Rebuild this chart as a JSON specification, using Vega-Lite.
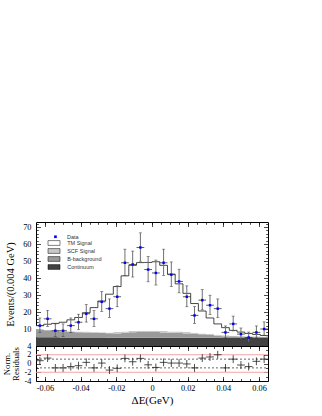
{
  "$schema": "https://vega.github.io/schema/vega-lite/v6.json",
  "autosize": {"type": "pad"},
  "padding": {"left": 2, "top": 221, "right": 5, "bottom": 2},
  "background": "white",
  "spacing": 0,
  "bounds": "flush",
  "config": {
    "view": {"stroke": "black", "strokeWidth": 1},
    "font": "Liberation Serif",
    "axis": {
      "grid": false, "domain": false, "tickColor": "black", "tickWidth": 0.7,
      "labelFont": "Liberation Serif", "titleFont": "Liberation Serif",
      "labelColor": "black", "titleColor": "black", "labelFontSize": 8.3,
      "titleFontWeight": "normal", "labelOverlap": false, "labelFlush": false
    }
  },
  "datasets": {
    "hist": [
      {"lo": -0.065, "Continuum": 5.1, "B-background": 4.5, "SCF Signal": 0.4, "TM Signal": 2.0},
      {"lo": -0.06067, "Continuum": 5.1, "B-background": 4.1, "SCF Signal": 0.4, "TM Signal": 3.2},
      {"lo": -0.05633, "Continuum": 5.1, "B-background": 3.7, "SCF Signal": 0.4, "TM Signal": 4.1},
      {"lo": -0.052, "Continuum": 5.0, "B-background": 3.6, "SCF Signal": 0.4, "TM Signal": 5.0},
      {"lo": -0.04767, "Continuum": 5.0, "B-background": 3.3, "SCF Signal": 0.4, "TM Signal": 6.7},
      {"lo": -0.04333, "Continuum": 5.0, "B-background": 3.1, "SCF Signal": 0.5, "TM Signal": 8.2},
      {"lo": -0.039, "Continuum": 5.0, "B-background": 3.0, "SCF Signal": 0.5, "TM Signal": 11.1},
      {"lo": -0.03467, "Continuum": 5.0, "B-background": 2.8, "SCF Signal": 0.5, "TM Signal": 14.3},
      {"lo": -0.03033, "Continuum": 5.0, "B-background": 2.6, "SCF Signal": 0.5, "TM Signal": 18.4},
      {"lo": -0.026, "Continuum": 4.9, "B-background": 2.6, "SCF Signal": 0.5, "TM Signal": 22.5},
      {"lo": -0.02167, "Continuum": 4.9, "B-background": 2.5, "SCF Signal": 0.8, "TM Signal": 26.8},
      {"lo": -0.01733, "Continuum": 4.9, "B-background": 2.9, "SCF Signal": 0.8, "TM Signal": 32.7},
      {"lo": -0.013, "Continuum": 4.9, "B-background": 3.2, "SCF Signal": 0.8, "TM Signal": 38.6},
      {"lo": -0.00867, "Continuum": 4.9, "B-background": 3.3, "SCF Signal": 0.8, "TM Signal": 40.1},
      {"lo": -0.00433, "Continuum": 4.9, "B-background": 3.3, "SCF Signal": 0.8, "TM Signal": 40.2},
      {"lo": 0, "Continuum": 4.8, "B-background": 3.4, "SCF Signal": 0.8, "TM Signal": 40.6},
      {"lo": 0.00433, "Continuum": 4.8, "B-background": 3.2, "SCF Signal": 0.8, "TM Signal": 38.7},
      {"lo": 0.00867, "Continuum": 4.8, "B-background": 3.0, "SCF Signal": 0.8, "TM Signal": 33.7},
      {"lo": 0.013, "Continuum": 4.8, "B-background": 2.9, "SCF Signal": 0.8, "TM Signal": 28.1},
      {"lo": 0.01733, "Continuum": 4.8, "B-background": 2.6, "SCF Signal": 0.8, "TM Signal": 22.8},
      {"lo": 0.02167, "Continuum": 4.8, "B-background": 2.5, "SCF Signal": 0.5, "TM Signal": 17.2},
      {"lo": 0.026, "Continuum": 4.8, "B-background": 2.1, "SCF Signal": 0.5, "TM Signal": 13.2},
      {"lo": 0.03033, "Continuum": 4.8, "B-background": 1.7, "SCF Signal": 0.5, "TM Signal": 9.5},
      {"lo": 0.03467, "Continuum": 4.8, "B-background": 1.3, "SCF Signal": 0.5, "TM Signal": 6.4},
      {"lo": 0.039, "Continuum": 4.7, "B-background": 1.1, "SCF Signal": 0.5, "TM Signal": 4.5},
      {"lo": 0.04333, "Continuum": 4.7, "B-background": 1.0, "SCF Signal": 0.3, "TM Signal": 3.2},
      {"lo": 0.04767, "Continuum": 4.7, "B-background": 0.9, "SCF Signal": 0.3, "TM Signal": 2.3},
      {"lo": 0.052, "Continuum": 4.7, "B-background": 0.8, "SCF Signal": 0.3, "TM Signal": 1.6},
      {"lo": 0.05633, "Continuum": 4.7, "B-background": 0.7, "SCF Signal": 0.3, "TM Signal": 1.1},
      {"lo": 0.06067, "Continuum": 4.7, "B-background": 0.6, "SCF Signal": 0.3, "TM Signal": 0.6},
      {"lo": 0.065, "Continuum": 4.7, "B-background": 0.6, "SCF Signal": 0.3, "TM Signal": 0.6}
    ],
    "pts": [
      {"x": -0.06283, "xlo": -0.065, "xhi": -0.06067, "n": 12, "lo": 8.0, "hi": 16.5, "res": 0.64, "rlo": -0.26, "rhi": 1.54},
      {"x": -0.0585, "xlo": -0.06067, "xhi": -0.05633, "n": 16, "lo": 11.5, "hi": 21.0, "res": 1.24, "rlo": 0.34, "rhi": 2.14},
      {"x": -0.05417, "xlo": -0.05633, "xhi": -0.052, "n": 9, "lo": 5.5, "hi": 13.0, "res": -1.0, "rlo": -1.9, "rhi": -0.1},
      {"x": -0.04983, "xlo": -0.052, "xhi": -0.04767, "n": 9, "lo": 5.5, "hi": 13.0, "res": -1.0, "rlo": -1.9, "rhi": -0.1},
      {"x": -0.0455, "xlo": -0.04767, "xhi": -0.04333, "n": 12, "lo": 8.0, "hi": 16.5, "res": -0.7, "rlo": -1.6, "rhi": 0.2},
      {"x": -0.04117, "xlo": -0.04333, "xhi": -0.039, "n": 14, "lo": 9.8, "hi": 18.7, "res": -0.5, "rlo": -1.4, "rhi": 0.4},
      {"x": -0.03683, "xlo": -0.039, "xhi": -0.03467, "n": 19, "lo": 14.1, "hi": 24.4, "res": 0.26, "rlo": -0.64, "rhi": 1.16},
      {"x": -0.0325, "xlo": -0.03467, "xhi": -0.03033, "n": 16, "lo": 11.5, "hi": 21.0, "res": -1.0, "rlo": -1.9, "rhi": -0.1},
      {"x": -0.02817, "xlo": -0.03033, "xhi": -0.026, "n": 26, "lo": 20.4, "hi": 32.1, "res": 0.1, "rlo": -0.8, "rhi": 1.0},
      {"x": -0.02383, "xlo": -0.026, "xhi": -0.02167, "n": 22, "lo": 16.8, "hi": 27.7, "res": -1.5, "rlo": -2.4, "rhi": -0.6},
      {"x": -0.0195, "xlo": -0.02167, "xhi": -0.01733, "n": 29, "lo": 23.1, "hi": 35.4, "res": -1.1, "rlo": -2.0, "rhi": -0.2},
      {"x": -0.01517, "xlo": -0.01733, "xhi": -0.013, "n": 49, "lo": 41.5, "hi": 57.0, "res": 1.17, "rlo": 0.27, "rhi": 2.07},
      {"x": -0.01083, "xlo": -0.013, "xhi": -0.00867, "n": 48, "lo": 40.6, "hi": 55.9, "res": 0.4, "rlo": -0.5, "rhi": 1.3},
      {"x": -0.0065, "xlo": -0.00867, "xhi": -0.00433, "n": 58, "lo": 49.9, "hi": 66.6, "res": 1.17, "rlo": 0.27, "rhi": 2.07},
      {"x": -0.00217, "xlo": -0.00433, "xhi": 0, "n": 45, "lo": 37.8, "hi": 52.7, "res": -0.3, "rlo": -1.2, "rhi": 0.6},
      {"x": 0.00217, "xlo": 0, "xhi": 0.00433, "n": 43, "lo": 35.9, "hi": 50.6, "res": -0.9, "rlo": -1.8, "rhi": 0.0},
      {"x": 0.0065, "xlo": 0.00433, "xhi": 0.00867, "n": 49, "lo": 41.5, "hi": 57.0, "res": 0.26, "rlo": -0.64, "rhi": 1.16},
      {"x": 0.01083, "xlo": 0.00867, "xhi": 0.013, "n": 42, "lo": 35.0, "hi": 49.5, "res": 0.1, "rlo": -0.8, "rhi": 1.0},
      {"x": 0.01517, "xlo": 0.013, "xhi": 0.01733, "n": 38, "lo": 31.3, "hi": 45.2, "res": 0.1, "rlo": -0.8, "rhi": 1.0},
      {"x": 0.0195, "xlo": 0.01733, "xhi": 0.02167, "n": 29, "lo": 23.1, "hi": 35.4, "res": -0.1, "rlo": -1.0, "rhi": 0.8},
      {"x": 0.02383, "xlo": 0.02167, "xhi": 0.026, "n": 18, "lo": 13.3, "hi": 23.2, "res": -1.0, "rlo": -1.9, "rhi": -0.1},
      {"x": 0.02817, "xlo": 0.026, "xhi": 0.03033, "n": 27, "lo": 21.3, "hi": 33.2, "res": 1.24, "rlo": 0.34, "rhi": 2.14},
      {"x": 0.0325, "xlo": 0.03033, "xhi": 0.03467, "n": 24, "lo": 18.6, "hi": 29.9, "res": 1.5, "rlo": 0.6, "rhi": 2.4},
      {"x": 0.03683, "xlo": 0.03467, "xhi": 0.039, "n": 22, "lo": 16.8, "hi": 27.7, "res": 2.0, "rlo": 1.1, "rhi": 2.9},
      {"x": 0.04117, "xlo": 0.039, "xhi": 0.04333, "n": 8, "lo": 4.7, "hi": 11.8, "res": -1.0, "rlo": -1.9, "rhi": -0.1},
      {"x": 0.0455, "xlo": 0.04333, "xhi": 0.04767, "n": 13, "lo": 8.9, "hi": 17.6, "res": 1.0, "rlo": 0.1, "rhi": 1.9},
      {"x": 0.04983, "xlo": 0.04767, "xhi": 0.052, "n": 7, "lo": 3.9, "hi": 10.6, "res": -0.35, "rlo": -1.25, "rhi": 0.55},
      {"x": 0.05417, "xlo": 0.052, "xhi": 0.05633, "n": 5, "lo": 2.3, "hi": 8.2, "res": -0.7, "rlo": -1.6, "rhi": 0.2},
      {"x": 0.0585, "xlo": 0.05633, "xhi": 0.06067, "n": 8, "lo": 4.7, "hi": 11.8, "res": 0.5, "rlo": -0.4, "rhi": 1.4},
      {"x": 0.06283, "xlo": 0.06067, "xhi": 0.065, "n": 10, "lo": 6.3, "hi": 14.2, "res": 1.0, "rlo": 0.1, "rhi": 1.9}
    ]
  },
  "vconcat": [
    {
      "width": 232,
      "height": 124,
      "resolve": {"axis": {"x": "independent", "y": "independent"}},
      "layer": [
        {
          "data": {"name": "hist"},
          "transform": [
            {"fold": ["Continuum", "B-background", "SCF Signal", "TM Signal"], "as": ["comp", "v"]},
            {"stack": "v", "groupby": ["lo"], "as": ["v0", "v1"]}
          ],
          "mark": {"type": "area", "interpolate": "step-after", "opacity": 1},
          "encoding": {
            "x": {"field": "lo", "type": "quantitative",
              "scale": {"domain": [-0.065, 0.065], "nice": false, "zero": false},
              "axis": {"orient": "bottom", "labels": false, "title": null, "tickSize": -4.5,
                "values": [-0.06, -0.04, -0.02, 0, 0.02, 0.04, 0.06]}},
            "y": {"field": "v1", "type": "quantitative",
              "scale": {"domain": [0, 73], "nice": false, "zero": false},
              "axis": {"orient": "left", "title": "Events/(0.004 GeV)", "titleFontSize": 10.5, "titlePadding": 7,
                "tickSize": -4.5, "labelPadding": 9.5, "values": [10, 20, 30, 40, 50, 60, 70]}},
            "y2": {"field": "v0"},
            "fill": {"field": "comp", "type": "nominal",
              "scale": {"domain": ["TM Signal", "SCF Signal", "B-background", "Continuum"],
                "range": ["#ffffff", "#c8c8c8", "#9a9a9a", "#424242"]},
              "legend": {"orient": "none", "legendX": 14.5, "legendY": 17.5, "title": null, "padding": 0,
                "labelFont": "Liberation Sans", "labelFontSize": 5.5, "labelColor": "#333333", "labelOffset": 9.7,
                "rowPadding": 1, "symbolSize": 36, "symbolType": "M-2,-0.8H2V0.8H-2Z",
                "symbolStrokeColor": "#000000", "symbolStrokeWidth": 0.5, "symbolOpacity": 1}
            }
          }
        },
        {
          "data": {"name": "hist"},
          "transform": [
            {"fold": ["Continuum", "B-background", "SCF Signal", "TM Signal"], "as": ["comp", "v"]},
            {"stack": "v", "groupby": ["lo"], "as": ["v0", "v1"]},
            {"filter": "datum.comp === 'TM Signal'"}
          ],
          "mark": {"type": "line", "interpolate": "step-after", "color": "#1a1a1a", "strokeWidth": 0.8},
          "encoding": {
            "x": {"field": "lo", "type": "quantitative",
              "scale": {"domain": [-0.065, 0.065], "nice": false, "zero": false},
              "axis": {"orient": "top", "labels": false, "title": null, "tickSize": -4.5,
                "values": [-0.06, -0.04, -0.02, 0, 0.02, 0.04, 0.06]}},
            "y": {"field": "v1", "type": "quantitative",
              "scale": {"domain": [0, 73], "nice": false, "zero": false},
              "axis": {"orient": "right", "labels": false, "title": null, "tickSize": -4.5,
                "values": [0, 10, 20, 30, 40, 50, 60, 70]}}
          }
        },
        {
          "data": {"name": "pts"},
          "mark": {"type": "rule", "color": "#707070", "strokeWidth": 1},
          "encoding": {
            "x": {"field": "x", "type": "quantitative", "scale": {"domain": [-0.065, 0.065], "nice": false, "zero": false},
              "axis": {"orient": "bottom", "labels": false, "title": null, "tickSize": -2.3,
                "values": [-0.06,-0.055,-0.05,-0.045,-0.04,-0.035,-0.03,-0.025,-0.02,-0.015,-0.01,-0.005,0,0.005,0.01,0.015,0.02,0.025,0.03,0.035,0.04,0.045,0.05,0.055,0.06]}},
            "y": {"field": "lo", "type": "quantitative", "scale": {"domain": [0, 73], "nice": false, "zero": false},
              "axis": {"orient": "left", "labels": false, "title": null, "tickSize": -2.3,
                "values": [2,4,6,8,12,14,16,18,22,24,26,28,32,34,36,38,42,44,46,48,52,54,56,58,62,64,66,68,72]}},
            "y2": {"field": "hi"}
          }
        },
        {
          "data": {"name": "pts"},
          "mark": {"type": "rule", "color": "#333333", "strokeWidth": 0.8},
          "encoding": {
            "x": {"field": "xlo", "type": "quantitative", "scale": {"domain": [-0.065, 0.065], "nice": false, "zero": false},
              "axis": {"orient": "top", "labels": false, "title": null, "tickSize": -2.3,
                "values": [-0.06,-0.055,-0.05,-0.045,-0.04,-0.035,-0.03,-0.025,-0.02,-0.015,-0.01,-0.005,0,0.005,0.01,0.015,0.02,0.025,0.03,0.035,0.04,0.045,0.05,0.055,0.06]}},
            "x2": {"field": "xhi"},
            "y": {"field": "n", "type": "quantitative", "scale": {"domain": [0, 73], "nice": false, "zero": false},
              "axis": {"orient": "right", "labels": false, "title": null, "tickSize": -2.3,
                "values": [2,4,6,8,12,14,16,18,22,24,26,28,32,34,36,38,42,44,46,48,52,54,56,58,62,64,66,68,72]}}
          }
        },
        {
          "data": {"name": "pts"},
          "transform": [{"fold": ["lo", "hi"], "as": ["end", "ev"]}],
          "mark": {"type": "tick", "orient": "horizontal", "color": "#333333", "size": 3, "thickness": 0.7},
          "encoding": {
            "x": {"field": "x", "type": "quantitative", "scale": {"domain": [-0.065, 0.065], "nice": false, "zero": false}, "axis": null},
            "y": {"field": "ev", "type": "quantitative", "scale": {"domain": [0, 73], "nice": false, "zero": false}, "axis": null}
          }
        },
        {
          "data": {"name": "pts"},
          "mark": {"type": "point", "filled": true, "size": 6, "color": "#0000ff", "opacity": 1},
          "encoding": {
            "x": {"field": "x", "type": "quantitative", "scale": {"domain": [-0.065, 0.065], "nice": false, "zero": false}, "axis": null},
            "y": {"field": "n", "type": "quantitative", "scale": {"domain": [0, 73], "nice": false, "zero": false}, "axis": null},
            "shape": {"datum": "Data", "type": "nominal",
              "scale": {"domain": ["Data"], "range": ["square"]},
              "legend": {"orient": "none", "legendX": 16.7, "legendY": 12, "title": null, "padding": 0,
                "labelFont": "Liberation Sans", "labelFontSize": 5.5, "labelColor": "#333333", "labelOffset": 8.8,
                "symbolSize": 7, "symbolFillColor": "#0000ff", "symbolStrokeWidth": 0, "symbolOpacity": 1}}
          }
        }
      ]
    },
    {
      "width": 232,
      "height": 35,
      "resolve": {"axis": {"x": "independent", "y": "independent"}},
      "layer": [
        {
          "data": {"values": [{"r": 2}, {"r": -2}]},
          "mark": {"type": "rule", "color": "#f4a3a3", "strokeWidth": 1.2},
          "encoding": {
            "x": {"datum": -0.065, "type": "quantitative", "scale": {"domain": [-0.065, 0.065], "nice": false, "zero": false},
              "axis": {"orient": "bottom", "labels": false, "title": null, "tickSize": -2.5,
                "values": [-0.06,-0.055,-0.05,-0.045,-0.04,-0.035,-0.03,-0.025,-0.02,-0.015,-0.01,-0.005,0,0.005,0.01,0.015,0.02,0.025,0.03,0.035,0.04,0.045,0.05,0.055,0.06]}},
            "x2": {"datum": 0.065},
            "y": {"field": "r", "type": "quantitative", "scale": {"domain": [-4, 4], "nice": false, "zero": false},
              "axis": {"orient": "left", "labels": false, "title": null, "tickSize": -2.5, "values": [-3, -1, 1, 3]}}
          }
        },
        {
          "data": {"values": [{"r": 1}, {"r": -1}]},
          "mark": {"type": "rule", "color": "#000000", "strokeWidth": 0.6, "strokeDash": [2, 2]},
          "encoding": {
            "x": {"datum": -0.065, "type": "quantitative", "scale": {"domain": [-0.065, 0.065], "nice": false, "zero": false},
              "axis": {"orient": "top", "labels": false, "title": null, "tickSize": -2.5,
                "values": [-0.06,-0.055,-0.05,-0.045,-0.04,-0.035,-0.03,-0.025,-0.02,-0.015,-0.01,-0.005,0,0.005,0.01,0.015,0.02,0.025,0.03,0.035,0.04,0.045,0.05,0.055,0.06]}},
            "x2": {"datum": 0.065},
            "y": {"field": "r", "type": "quantitative", "scale": {"domain": [-4, 4], "nice": false, "zero": false},
              "axis": {"orient": "right", "labels": false, "title": null, "tickSize": -2.5, "values": [-3, -1, 1, 3]}}
          }
        },
        {
          "data": {"name": "pts"},
          "mark": {"type": "rule", "color": "#222222", "strokeWidth": 0.8},
          "encoding": {
            "x": {"field": "xlo", "type": "quantitative",
              "scale": {"domain": [-0.065, 0.065], "nice": false, "zero": false},
              "axis": {"orient": "bottom", "title": "ΔE(GeV)", "titleFontSize": 11, "titlePadding": 3,
                "tickSize": -4.5, "labelPadding": 6.5,
                "values": [-0.06, -0.04, -0.02, 0, 0.02, 0.04, 0.06],
                "labelExpr": "'' + datum.value"}},
            "x2": {"field": "xhi"},
            "y": {"field": "res", "type": "quantitative",
              "scale": {"domain": [-4, 4], "nice": false, "zero": false},
              "axis": {"orient": "left", "title": ["Norm.", "Residuals"], "titleFontSize": 8.7, "titleLineHeight": 8.5, "titlePadding": 4,
                "tickSize": -4.5, "labelPadding": 9.5,
                "values": [-4, -2, 0, 2, 4],
                "labelExpr": "'' + datum.value"}}
          }
        },
        {
          "data": {"name": "pts"},
          "mark": {"type": "rule", "color": "#222222", "strokeWidth": 0.8},
          "encoding": {
            "x": {"field": "x", "type": "quantitative",
              "scale": {"domain": [-0.065, 0.065], "nice": false, "zero": false},
              "axis": {"orient": "top", "labels": false, "title": null, "tickSize": -4.5,
                "values": [-0.06, -0.04, -0.02, 0, 0.02, 0.04, 0.06]}},
            "y": {"field": "rlo", "type": "quantitative",
              "scale": {"domain": [-4, 4], "nice": false, "zero": false},
              "axis": {"orient": "right", "labels": false, "title": null, "tickSize": -4.5,
                "values": [-4, -2, 0, 2, 4]}},
            "y2": {"field": "rhi"}
          }
        }
      ]
    }
  ]
}
